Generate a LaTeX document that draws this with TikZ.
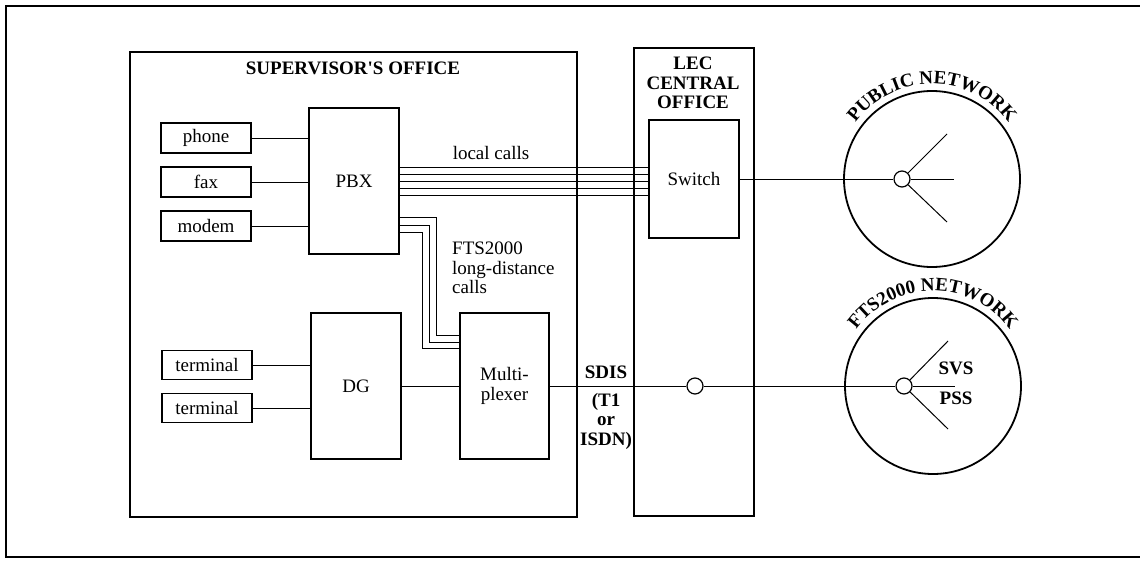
\documentclass[tikz,border=0pt]{standalone}
\usepackage{fontspec}
\setmainfont{Liberation Serif}
\usetikzlibrary{decorations.text,calc}
\tikzset{
  box/.style={draw, line width=1.2pt, inner sep=0pt},
  wire/.style={line width=1pt},
  lbl/.style={font=\fontsize{19}{19.5}\selectfont, inner sep=0pt, align=center},
  blbl/.style={font=\fontsize{19}{19.5}\selectfont\bfseries, inner sep=0pt, align=center},
  smalldot/.style={circle, draw, line width=1.2pt, minimum size=16pt, inner sep=0pt},
  netcircle/.style={circle, draw, line width=1.8pt, minimum size=176pt, inner sep=0pt},
  frameline/.style={line width=2pt},
}
\begin{document}
\begin{tikzpicture}[x=1pt,y=-1pt]
\useasboundingbox (0,0) rectangle (1140,562);
% outer frame (open on the right)
\coordinate (ftr) at (1140,6);
\coordinate (ftl) at (6,6);
\coordinate (fbl) at (6,557);
\coordinate (fbr) at (1140,557);
\draw[frameline] (ftr) -- (ftl) -- (fbl) -- (fbr);

% big boxes
\node[box, minimum width=447pt, minimum height=465pt] (sup) at (353.5,284.5) {};
\node[box, minimum width=120pt, minimum height=468pt] (lec) at (694,282) {};
\node[blbl] (suptitle) at (353,68) {SUPERVISOR\textquotesingle S OFFICE};
\node[blbl] (lectitle) at (693,83) {LEC\\CENTRAL\\OFFICE};

% devices
\node[box, lbl, minimum width=90pt, minimum height=30pt] (phone) at (206,138) {phone};
\node[box, lbl, minimum width=90pt, minimum height=30pt] (fax) at (206,182) {fax};
\node[box, lbl, minimum width=90pt, minimum height=30pt] (modem) at (206,226) {modem};
\node[box, lbl, minimum width=90pt, minimum height=29pt] (term1) at (207,365) {terminal};
\node[box, lbl, minimum width=90pt, minimum height=29pt] (term2) at (207,408) {terminal};

\node[box, lbl, minimum width=90pt, minimum height=146pt] (pbx) at (354,181) {PBX};
\node[box, lbl, minimum width=90pt, minimum height=146pt] (dg) at (356,386) {DG};
\node[box, lbl, minimum width=89pt, minimum height=146pt] (mux) at (504.5,386) {Multi-\\plexer};
\node[box, lbl, minimum width=90pt, minimum height=118pt] (sw) at (694,179) {Switch};

% device links
\draw[wire] (phone.east) -- (phone.east -| pbx.west);
\draw[wire] (fax.east) -- (fax.east -| pbx.west);
\draw[wire] (modem.east) -- (modem.east -| pbx.west);
\draw[wire] (term1.east) -- (term1.east -| dg.west);
\draw[wire] (term2.east) -- (term2.east -| dg.west);

% local calls bundle
\foreach \d in {-14,-7,0,7,14}
  \draw[wire] ($(pbx.east)+(0,\d)$) -- ($(pbx.east -| sw.west)+(0,\d)$);
\node[lbl] (localcalls) at (491,153) {local calls};

% long-distance bundle
\draw[wire] ($(pbx.east)+(0,36)$) -| ($(mux.west)+(-23,-51)$) -- ($(mux.west)+(0,-51)$);
\draw[wire] ($(pbx.east)+(0,44)$) -| ($(mux.west)+(-30,-44)$) -- ($(mux.west)+(0,-44)$);
\draw[wire] ($(pbx.east)+(0,51)$) -| ($(mux.west)+(-37,-38)$) -- ($(mux.west)+(0,-38)$);
\node[lbl, align=left, anchor=west] (ftslabel) at (452,268) {FTS2000\\long-distance\\calls};

% DG to multiplexer
\draw[wire] (dg.east) -- (mux.west);

% networks
\node[netcircle] (pub) at (932,179) {};
\node[netcircle] (fts) at (933,386) {};
\node[smalldot] (pdot) at (902,179) {};
\node[smalldot] (fdot) at (904,386) {};
\node[smalldot] (cdot) at (695,386) {};

\draw[wire] (sw.east) -- (pdot);
\draw[wire] (pdot) -- ($(pdot)+(45,-45)$);
\draw[wire] (pdot) -- ($(pdot)+(45,43)$);
\draw[wire] (pdot) -- ($(pdot)+(52,0)$);

\draw[wire] (mux.east) -- (cdot);
\draw[wire] (cdot) -- (fdot);
\draw[wire] (fdot) -- ($(fdot)+(44,-45)$);
\draw[wire] (fdot) -- ($(fdot)+(44,43)$);
\draw[wire] (fdot) -- ($(fdot)+(51,0)$);

\node[blbl] (svs) at (956,368) {SVS};
\node[blbl] (pss) at (956,398) {PSS};

\node[blbl] (sdis) at (606,372) {SDIS};
\node[blbl] (t1) at (606,421) {(T1\\or\\ISDN)};

\path[decorate, decoration={text along path, text align=center,
   text={|\fontsize{19}{19}\selectfont\bfseries|PUBLIC NETWORK}}]
   ($(pub)+(-150:95)$) arc[start angle=-150, end angle=-30, radius=95];
\path[decorate, decoration={text along path, text align=center,
   text={|\fontsize{19}{19}\selectfont\bfseries|FTS2000 NETWORK}}]
   ($(fts)+(-150:95)$) arc[start angle=-150, end angle=-30, radius=95];
\end{tikzpicture}
\end{document}
